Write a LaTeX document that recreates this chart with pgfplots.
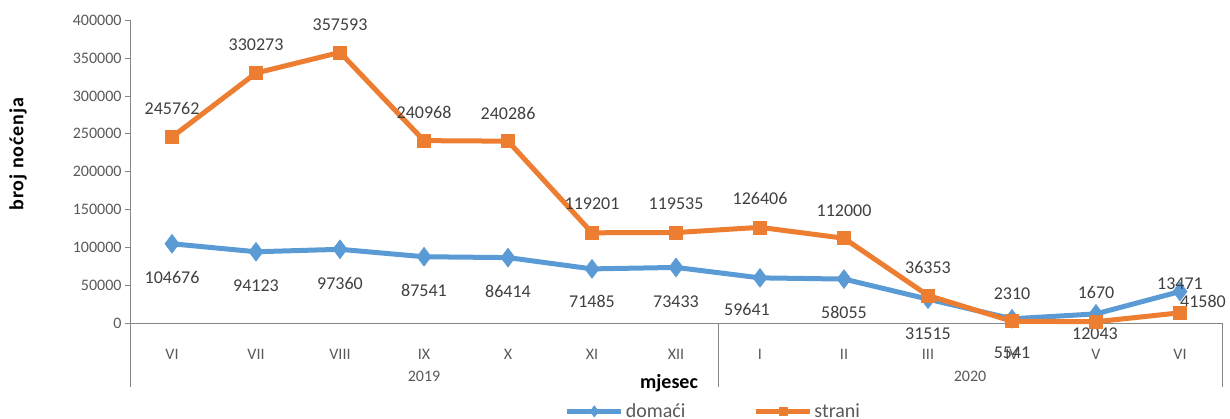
\documentclass[border=0pt]{standalone}
\usepackage{pgfplots}
\pgfplotsset{compat=1.18}
\usepackage{pgfplotstable}
\usepackage{fontspec}
\setmainfont{Carlito}
\newfontfamily\lsfont[LetterSpace=4.5]{Carlito}
\definecolor{cblue}{HTML}{5B9BD5}
\definecolor{corange}{HTML}{ED7D31}
\definecolor{axgray}{HTML}{868686}
\definecolor{tkgray}{HTML}{595959}
\definecolor{lblgray}{HTML}{404040}

\pgfplotstableread{
x y lab dx dy
0 104676 104676 0 -34
1 94123 94123 0 -34
2 97360 97360 0 -34
3 87541 87541 0 -34
4 86414 86414 0 -34
5 71485 71485 0 -33
6 73433 73433 0 -34
7 59641 59641 -13 -32
8 58055 58055 0 -33
9 31515 31515 0 -35
10 5541 5541 0 -34
11 12043 12043 -1 -20
12 41580 41580 23 -10
}\domaci

\pgfplotstableread{
x y lab dx dy
0 245762 245762 0 29
1 330273 330273 0 28
2 357593 357593 0 28
3 240968 240968 0 28
4 240286 240286 0 28
5 119201 119201 0 29
6 119535 119535 0 29
7 126406 126406 0 29
8 112000 112000 0 28
9 36353 36353 0 28
10 2310 2310 0 28
11 1670 1670 0 29
12 13471 13471 0 29
}\strani

\begin{document}
\begin{tikzpicture}
\path[use as bounding box] (0,0) rectangle (1230pt,419pt);
\clip (0,0) rectangle (1230pt,419pt);
\begin{axis}[
  at={(130pt,96pt)}, anchor=south west,
  scale only axis, width=1092pt, height=302.7pt,
  xmin=-0.5, xmax=12.5, ymin=0, ymax=400000,
  clip=false,
  axis lines=left,
  axis line style={draw=axgray, line width=0.8pt, -},
  scaled y ticks=false,
  ytick={0,50000,100000,150000,200000,250000,300000,350000,400000},
  yticklabels={0,50000,100000,150000,200000,250000,300000,350000,400000},
  tick align=outside, major tick length=5pt,
  y tick style={draw=axgray, line width=0.8pt},
  yticklabel style={font=\fontsize{16}{19}\selectfont, text=tkgray},
  xtick={0,1,2,3,4,5,6,7,8,9,10,11,12},
  xticklabels={VI,VII,VIII,IX,X,XI,XII,I,II,III,IV,V,VI},
  x tick style={draw=none},
  xticklabel shift=18pt,
  xticklabel style={font=\fontsize{16}{19}\selectfont, text=tkgray},
  xlabel={mjesec},
  xlabel style={at={(axis description cs:0.4936,0)}, anchor=center, yshift=-60pt, font=\bfseries\fontsize{20}{24}\selectfont, text=black},
  ylabel={broj noćenja},
  ylabel style={at={(axis description cs:-0.1026,0.558)}, anchor=center, font=\lsfont\bfseries\fontsize{20}{24}\selectfont, text=black},
  legend columns=2,
  legend cell align=left,
  legend style={at={(rel axis cs:0.398,-0.292)}, anchor=west, draw=none, fill=none, inner sep=0pt,
    font=\fontsize{20}{24}\selectfont, text=tkgray,
    /tikz/every even column/.append style={column sep=66pt}},
  legend image code/.code={
    \draw[mark repeat=2, mark phase=2, #1, every mark/.append style={scale=0.6}] plot coordinates {(0pt,0pt) (27pt,0pt) (54pt,0pt)};
  },
]
\addplot[cblue, line width=5pt, line join=round, mark=diamond*, mark size=9.5pt,
  mark options={solid, line width=0.5pt},
  point meta=explicit symbolic,
  visualization depends on={\thisrow{dx} \as \myDX},
  visualization depends on={\thisrow{dy} \as \myDY},
  nodes near coords,
  nodes near coords style={anchor=center, xshift={\myDX pt}, yshift={\myDY pt}, font=\fontsize{18}{22}\selectfont, text=lblgray}]
  table[x=x, y=y, meta=lab]{\domaci};
\addlegendentry{domaći}
\addplot[corange, line width=5pt, line join=round, mark=square*, mark size=6.5pt,
  mark options={solid, line width=0.5pt},
  point meta=explicit symbolic,
  visualization depends on={\thisrow{dx} \as \myDX},
  visualization depends on={\thisrow{dy} \as \myDY},
  nodes near coords,
  nodes near coords style={anchor=center, xshift={\myDX pt}, yshift={\myDY pt}, font=\fontsize{18}{22}\selectfont, text=lblgray}]
  table[x=x, y=y, meta=lab]{\strani};
\addlegendentry{strani}
\draw[axgray, line width=0.8pt] (axis cs:-0.5,0) -- ++(0pt,-64pt);
\draw[axgray, line width=0.8pt] (axis cs:6.5,0) -- ++(0pt,-64pt);
\draw[axgray, line width=0.8pt] (axis cs:12.5,0) -- ++(0pt,-64pt);
\node[font=\fontsize{16}{19}\selectfont, text=tkgray] at (axis cs:3,0) [yshift=-53pt] {2019};
\node[font=\fontsize{16}{19}\selectfont, text=tkgray] at (axis cs:9.5,0) [yshift=-53pt] {2020};
\end{axis}
\end{tikzpicture}
\end{document}
